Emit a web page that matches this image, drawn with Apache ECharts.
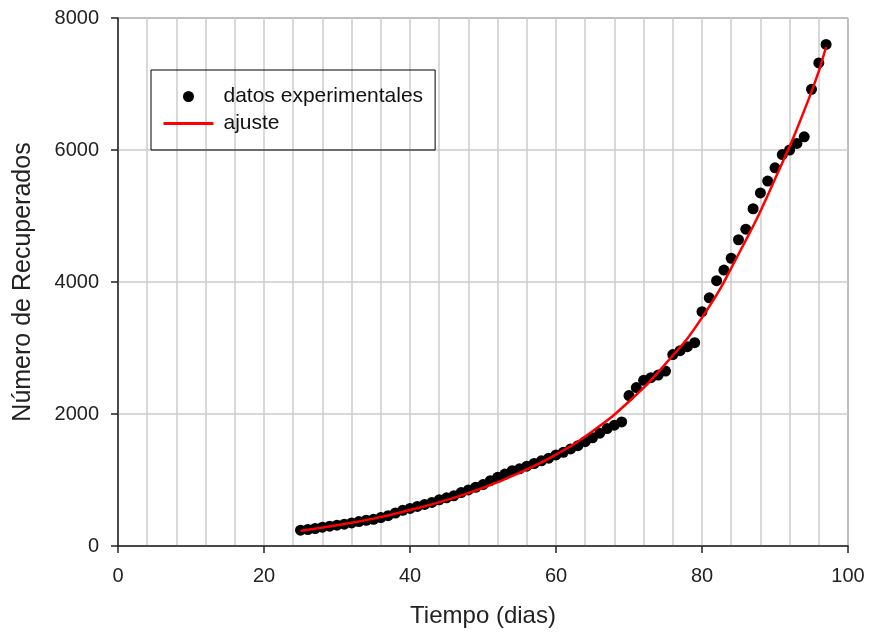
<!DOCTYPE html>
<html>
<head>
<meta charset="utf-8">
<script src="https://cdn.jsdelivr.net/npm/echarts@6/dist/echarts.min.js"></script>
<style>
  html, body { margin: 0; padding: 0; background: #fff; }
  #chart { width: 869px; height: 637px; }
</style>
</head>
<body>
<div id="chart"></div>
<script>
// datos
let dias = [25,26,27,28,29,30,31,32,33,34,35,36,37,38,39,40,41,42,43,44,45,46,47,48,49,
            50,51,52,53,54,55,56,57,58,59,60,61,62,63,64,65,66,67,68,69,70,71,72,73,74,
            75,76,77,78,79,80,81,82,83,84,85,86,87,88,89,90,91,92,93,94,95,96,97];
let recuperados = [240,250,265,285,300,315,330,350,370,390,405,430,460,500,540,570,600,630,660,700,730,
                   760,810,850,890,930,990,1040,1090,1140,1170,1210,1250,1290,1330,1380,1420,1470,1520,
                   1580,1640,1710,1780,1830,1880,2280,2400,2510,2550,2590,2650,2900,2960,3020,3080,
                   3550,3760,4020,4180,4360,4640,4800,5110,5350,5530,5730,5930,6000,6100,6200,6920,7320,7600];
let diasAjuste = [25,30,35,40,45,50,55,60,65,70,75,80,85,90,95,97];
let valoresAjuste = [230,315,415,545,695,880,1110,1385,1740,2190,2760,3460,4420,5560,6880,7560];

let font = 'Liberation Sans, Arial, sans-serif';
let gridColor = '#cccccc';

let datos = dias.map((d, i) => [d, recuperados[i]]);
let ajuste = diasAjuste.map((d, i) => [d, valoresAjuste[i]]);

let option = {
  animation: false,
  grid: {
    left: 118, right: 21, top: 18, bottom: 91,
    show: true, borderColor: '#333', borderWidth: 1,
    outerBoundsMode: 'none'
  },
  legend: {
    left: 151, top: 70,
    orient: 'vertical',
    borderColor: '#000', borderWidth: 1,
    padding: [16, 12, 16, 11],
    itemGap: 6,
    itemWidth: 50, itemHeight: 11,
    textStyle: { fontFamily: font, fontSize: 21, color: '#111', padding: [0, 0, 0, 5] },
    data: [
      { name: 'datos experimentales' },
      { name: 'ajuste', itemStyle: { opacity: 0 }, lineStyle: { width: 3 } }
    ]
  },
  xAxis: {
    type: 'value', min: 0, max: 100, interval: 20,
    name: 'Tiempo (dias)', nameLocation: 'middle', nameGap: 58,
    nameTextStyle: { fontFamily: font, fontSize: 24, color: '#222' },
    axisLine: { lineStyle: { color: '#222', width: 1.5 } },
    axisTick: { show: true, length: 7, lineStyle: { color: '#222', width: 1.5 } },
    axisLabel: { fontFamily: font, fontSize: 20, color: '#222', margin: 20 },
    splitLine: { show: true, lineStyle: { color: gridColor, width: 1.5 } },
    minorTick: { show: false, splitNumber: 5 },
    minorSplitLine: { show: true, lineStyle: { color: gridColor, width: 1.5 } }
  },
  yAxis: {
    type: 'value', min: 0, max: 8000, interval: 2000,
    name: 'Número de Recuperados', nameLocation: 'middle', nameGap: 82,
    nameTextStyle: { fontFamily: font, fontSize: 25, color: '#222' },
    axisLine: { show: true, lineStyle: { color: '#222', width: 1.5 } },
    axisTick: { show: true, length: 7, lineStyle: { color: '#222', width: 1.5 } },
    axisLabel: { fontFamily: font, fontSize: 20, color: '#222', margin: 19, formatter: v => String(v) },
    splitLine: { show: true, lineStyle: { color: gridColor, width: 1.5 } }
  },
  series: [
    {
      name: 'datos experimentales',
      type: 'scatter',
      symbol: 'circle',
      symbolSize: 11,
      itemStyle: { color: '#000', opacity: 1 },
      data: datos
    },
    {
      name: 'ajuste',
      type: 'line',
      smooth: true,
      symbol: 'none',
      lineStyle: { color: '#ff0000', width: 2.5 },
      itemStyle: { color: '#ff0000' },
      data: ajuste
    }
  ]
};

let myChart = echarts.init(document.getElementById('chart'));
myChart.setOption(option);
</script>
</body>
</html>
